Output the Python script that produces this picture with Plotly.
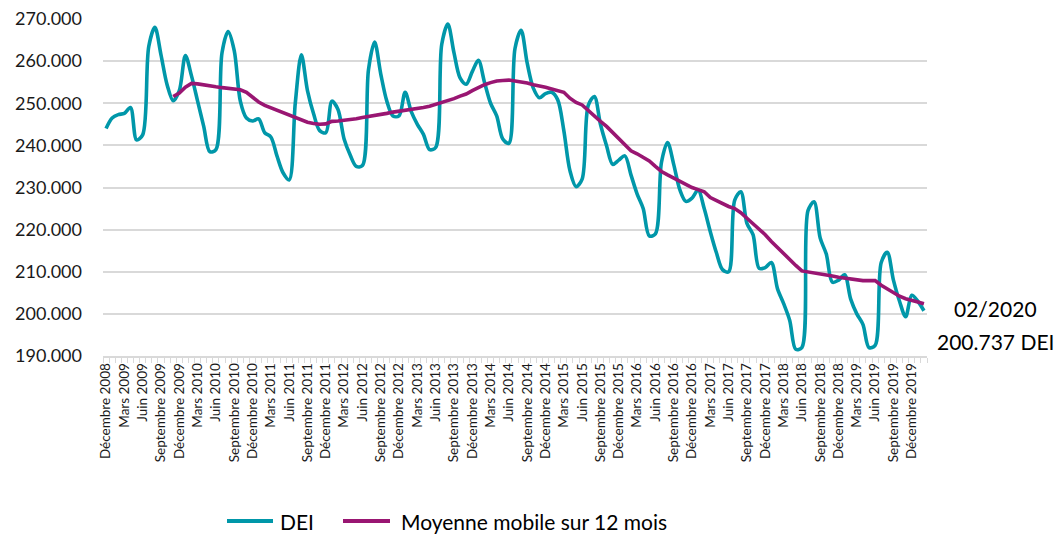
import plotly.graph_objects as go

# ---- data -------------------------------------------------------------
month_names = ["Janvier", "Février", "Mars", "Avril", "Mai", "Juin", "Juillet",
               "Août", "Septembre", "Octobre", "Novembre", "Décembre"]
start_year, start_month = 2008, 12   # Décembre 2008
n_points = 135                       # Décembre 2008 -> Février 2020

dei = [
    244000, 246500, 247300, 247600, 249000, 241300, 242500, 263500, 268000, 261500,
    254400, 250600, 253000, 261300, 256500, 250500, 244500, 238500, 239000, 262000,
    267000, 262500, 250500, 246500, 245800, 246300, 243000, 242000, 237500, 233500,
    231800, 250000, 261500, 253000, 247500, 243500, 243000, 250500, 248500, 241500,
    237700, 235000, 235200, 258000, 264500, 257000, 250500, 247000, 247000, 252600,
    248000, 245000, 242600, 239000, 239500, 264000, 268800, 262000, 256000, 254500,
    257500, 260200, 255000, 250000, 247000, 241500, 240500, 263000, 267300, 259500,
    253600, 251300, 252300, 252600, 250800, 243500, 234000, 230200, 232000, 249500,
    251600, 245000, 239900, 235500, 236500, 237500, 233000, 228500, 225000, 218500,
    219000, 236000, 240700, 235500, 229500, 226700, 227500, 229400, 225000, 219500,
    214500, 210500, 210000, 227000, 229000, 221500, 218800, 210800, 211000, 212200,
    206000, 202500, 198500, 191600, 192000, 224500, 226600, 218000, 214200, 207500,
    208000, 209300, 203500, 200000, 197500, 192000, 192500, 212200, 214600, 208000,
    203000, 199300, 204400, 203000, 200737,
]

moyenne_mobile = [None] * 11 + [
    251600, 252400, 253800, 254700, 254600, 254300, 254100, 253900, 253700, 253600,
    253400, 253200, 252600, 251500, 250300, 249500, 248900, 248300, 247700, 247100,
    246600, 246000, 245500, 245200, 245000, 245100, 245700, 245800, 245900, 246000,
    246300, 246600, 246800, 247100, 247300, 247600, 247900, 248100, 248300, 248400,
    248700, 249000, 249300, 249700, 250100, 250500, 251100, 251700, 252200, 253000,
    253800, 254400, 254900, 255300, 255400, 255500, 255300, 255100, 254800, 254400,
    254200, 253800, 253400, 252900, 252600, 251200, 250200, 249600, 248300, 246800,
    245700, 244500, 243000, 241600, 240200, 238700, 238000, 237200, 236300, 235000,
    233800, 233000, 232200, 231400, 230600, 230000, 229500, 229000, 227600, 226900,
    226100, 225500, 225000, 224000, 222700, 221400, 220200, 218800, 217200, 215700,
    214500, 213000, 211500, 210200, 210000, 209800, 209600, 209300, 209000, 208700,
    208500, 208200, 207900, 207900, 207900, 207900, 206800, 205900, 205000, 204200,
    203600, 203300, 202800, 202400,
]

# category labels (every month) and quarterly tick labels
categories = []
for k in range(n_points):
    m = (start_month - 1 + k) % 12
    y = start_year + (start_month - 1 + k) // 12
    categories.append(f"{month_names[m]} {y}")
positions = list(range(n_points))
tick_positions = positions[::3]
tick_labels = categories[::3]

last_label_date = "02/2020"
last_label_value = "200.737 DEI"

# ---- styling ----------------------------------------------------------
TEAL = "#0097A9"
PURPLE = "#991672"
GRID = "#D9D9D9"
OFF = 8                      # page body margin
W, H = 1062 - OFF, 535 - OFF
PLOT_L, PLOT_R, PLOT_T, PLOT_B = 103, 927, 19, 356   # page pixels
ML, MR, MT, MB = PLOT_L - OFF, (1062 - PLOT_R), PLOT_T - OFF, (535 - PLOT_B)
PW, PH = W - ML - MR, H - MT - MB


def px2paper_x(px):
    return (px - PLOT_L) / PW


def px2paper_y(py):
    return (PLOT_B - py) / PH


fig = go.Figure()
fig.add_trace(go.Scatter(
    x=positions, y=dei, mode="lines", name="DEI",
    line=dict(color=TEAL, width=3.6, shape="spline", smoothing=0.9),
    customdata=categories, hovertemplate="%{customdata}<br>%{y:,d}<extra></extra>",
    showlegend=False, cliponaxis=False,
))
fig.add_trace(go.Scatter(
    x=positions, y=moyenne_mobile, mode="lines", name="Moyenne mobile sur 12 mois",
    line=dict(color=PURPLE, width=3.6),
    customdata=categories, hovertemplate="%{customdata}<br>%{y:,d}<extra></extra>",
    showlegend=False, cliponaxis=False,
))

# custom legend (line samples + labels)
legend_items = [("DEI", TEAL, 227, 273, 278), ("Moyenne mobile sur 12 mois", PURPLE, 343, 390, 399)]
shapes = []
annotations = []
ly = px2paper_y(521)
for label, col, x0, x1, tx in legend_items:
    shapes.append(dict(type="line", xref="paper", yref="paper",
                       x0=px2paper_x(x0), x1=px2paper_x(x1), y0=ly, y1=ly,
                       line=dict(color=col, width=4)))
    annotations.append(dict(xref="paper", yref="paper", x=px2paper_x(tx), y=ly,
                            xanchor="left", yanchor="middle", text=label, showarrow=False,
                            font=dict(family="Lato", size=21, color="#000000")))

annotations.append(dict(xref="paper", yref="paper", x=px2paper_x(995), y=px2paper_y(308),
                        xanchor="center", yanchor="middle", text=last_label_date,
                        showarrow=False, font=dict(family="Lato", size=21, color="#000000")))
annotations.append(dict(xref="paper", yref="paper", x=px2paper_x(995), y=px2paper_y(341),
                        xanchor="center", yanchor="middle", text=last_label_value,
                        showarrow=False, font=dict(family="Lato", size=21, color="#000000")))

fig.update_layout(
    width=W, height=H,
    margin=dict(l=ML, r=MR, t=MT, b=MB, pad=0, autoexpand=False),
    paper_bgcolor="white", plot_bgcolor="white",
    separators=",.",
    showlegend=False,
    shapes=shapes, annotations=annotations,
    xaxis=dict(
        range=[-0.5, n_points - 0.5], automargin=False,
        tickmode="array", tickvals=tick_positions, ticktext=tick_labels,
        tickangle=-90, ticks="", showgrid=False, zeroline=False,
        showline=True, linecolor=GRID, linewidth=1.5,
        tickfont=dict(family="Lato", size=13.5, color="#1a1a1a"),
        minor=dict(ticks="outside", ticklen=5, tickcolor=GRID, tickwidth=1,
                   tick0=-0.5, dtick=1, showgrid=False),
    ),
    yaxis=dict(
        range=[190000, 270000], dtick=10000, tickformat=",d", automargin=False,
        showgrid=True, gridcolor=GRID, gridwidth=1.5, zeroline=False,
        showline=False, ticks="", ticklabelstandoff=20, ticklabeloverflow="allow",
        tickfont=dict(family="Lato", size=18, color="#1a1a1a"),
    ),
)

fig.write_html("out.html")
